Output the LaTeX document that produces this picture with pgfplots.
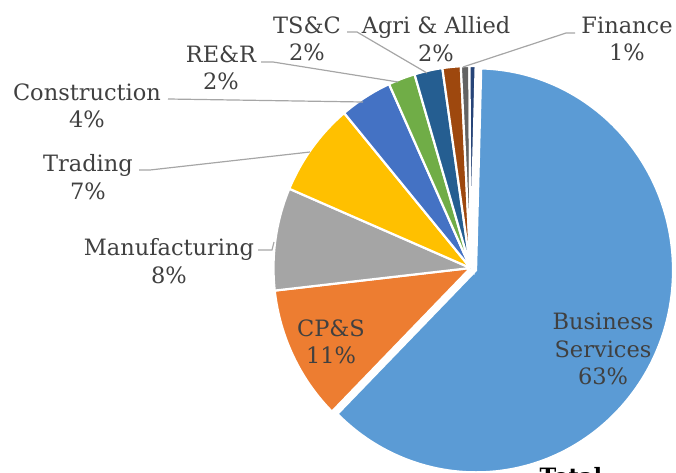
\documentclass[border=0pt]{standalone}
\usepackage{pgfplots}
\pgfplotsset{compat=1.18}
\usepackage{pgfplotstable}
\usepackage{fontspec}
\setmainfont{DejaVu Serif}
\definecolor{cBS}{HTML}{5B9BD5}
\definecolor{cCPS}{HTML}{ED7D31}
\definecolor{cMan}{HTML}{A5A5A5}
\definecolor{cTra}{HTML}{FFC000}
\definecolor{cCon}{HTML}{4472C4}
\definecolor{cRER}{HTML}{70AD47}
\definecolor{cTSC}{HTML}{255E91}
\definecolor{cAgr}{HTML}{9E480E}
\definecolor{cFin}{HTML}{636363}
\definecolor{cOth}{HTML}{264478}
\definecolor{lbl}{HTML}{404040}
\definecolor{lead}{HTML}{A6A6A6}

\pgfplotstableread{
name value col explode
BS 62.0 cBS 6
CPS 10.8 cCPS 0
Man 8.2 cMan 0
Tra 7.5 cTra 0
Con 4.3 cCon 0
RER 2.2 cRER 0
TSC 2.3 cTSC 0
Agr 1.5 cAgr 0
Fin 0.7 cFin 0
Oth 0.5 cOth 0
}\piedata

\begin{document}
\begin{tikzpicture}
\path[use as bounding box] (0,0) rectangle (676pt,472pt);
\begin{axis}[
  scale only axis, width=676pt, height=472pt,
  xmin=0, xmax=676, ymin=0, ymax=472,
  hide axis, clip=false,
]
\def\cum{0}
\pgfplotsforeachungrouped \i in {0,...,9} {
  \pgfplotstablegetelem{\i}{value}\of\piedata \let\v\pgfplotsretval
  \pgfplotstablegetelem{\i}{col}\of\piedata \let\c\pgfplotsretval
  \pgfplotstablegetelem{\i}{explode}\of\piedata \let\d\pgfplotsretval
  \pgfmathsetmacro\a{88.5-3.6*\cum}
  \pgfmathsetmacro\b{88.5-3.6*(\cum+\v)}
  \pgfmathsetmacro\m{(\a+\b)/2}
  \edef\temp{\noexpand\fill[\c, draw=white, line width=2.2pt]
    ([shift={(\m:\d pt)}]axis cs:470.5,204) -- ++(\a:197pt and 202pt)
    arc[start angle=\a, end angle=\b, x radius=197pt, y radius=202pt] -- cycle;}
  \temp
  \pgfmathsetmacro\cum{\cum+\v}
}
% leader lines
\draw[lead, line width=1.2pt] (axis cs:347,440) -- (axis cs:357,440) -- (axis cs:427,399);
\draw[lead, line width=1.2pt] (axis cs:261,410) -- (axis cs:273,410) -- (axis cs:398,390);
\draw[lead, line width=1.2pt] (axis cs:168,373) -- (axis cs:363,370);
\draw[lead, line width=1.2pt] (axis cs:139,302) -- (axis cs:150,302) -- (axis cs:310,320);
\draw[lead, line width=1.2pt] (axis cs:258,222) -- (axis cs:272,222) -- (axis cs:274,230);
\draw[lead, line width=1.2pt] (axis cs:575,439) -- (axis cs:566,439) -- (axis cs:463,405);
% labels
\begin{scope}[every node/.style={text=lbl, align=center, font=\fontsize{22.5}{27.5}\selectfont}]
\node at (axis cs:307,433) {TS\&C\\2\%};
\node at (axis cs:436,433) {Agri \& Allied\\2\%};
\node at (axis cs:627,433) {Finance\\1\%};
\node at (axis cs:221,404) {RE\&R\\2\%};
\node at (axis cs:87,366) {Construction\\4\%};
\node at (axis cs:88,295) {Trading\\7\%};
\node at (axis cs:169,211) {Manufacturing\\8\%};
\node at (axis cs:331,130) {CP\&S\\11\%};
\node at (axis cs:603,123) {Business\\Services\\63\%};
\end{scope}
\node[anchor=base west, font=\fontsize{22.5}{27.5}\selectfont\bfseries, text=black] at (axis cs:536,-12) {Total};
\end{axis}
\end{tikzpicture}
\end{document}
